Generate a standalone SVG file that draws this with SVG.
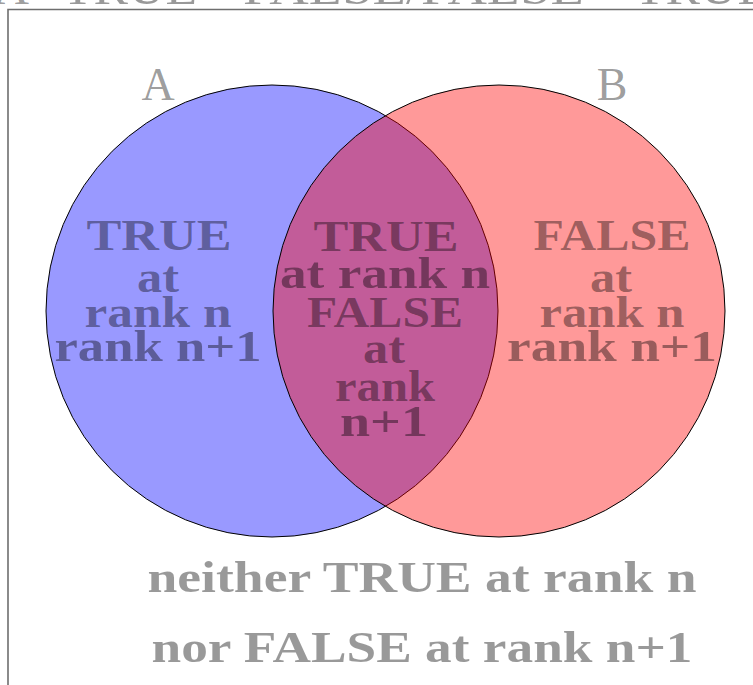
<svg xmlns="http://www.w3.org/2000/svg" width="753" height="685" viewBox="0 0 753 685">
<style>
.t{font-family:"Liberation Serif","Times New Roman",serif;fill:#000;fill-opacity:0.4;text-anchor:middle}
.b{font-weight:bold;font-size:44px}
.n{font-weight:normal;font-size:46px}
.c{stroke:#000;stroke-width:1}
</style>
<rect x="0" y="0" width="753" height="685" fill="#fff"/>
<g id="title">
<text class="t n" y="4" style="text-anchor:start"><tspan x="-6" textLength="35" lengthAdjust="spacingAndGlyphs">A</tspan><tspan x="62" textLength="135" lengthAdjust="spacingAndGlyphs">TRUE</tspan><tspan x="243" textLength="341" lengthAdjust="spacingAndGlyphs">FALSE/FALSE</tspan><tspan x="634" textLength="135" lengthAdjust="spacingAndGlyphs">TRUE</tspan></text>
</g>
<g id="frame">
<path d="M8,685 V9.5 H753" fill="none" stroke="#6e6e6e" stroke-width="1.6"/>
</g>
<g id="setA">
<circle class="c" cx="272" cy="311" r="226" fill="#0000ff" fill-opacity="0.4"/>
<text class="t n" x="158" y="100">A</text>
</g>
<g id="setB">
<circle class="c" cx="499" cy="311" r="226" fill="#ff0000" fill-opacity="0.4"/>
<text class="t n" x="612" y="100">B</text>
</g>
<g id="onlyA">
<text class="t b" x="159" y="250" textLength="145" lengthAdjust="spacingAndGlyphs">TRUE</text>
<text class="t b" x="158" y="292" textLength="42" lengthAdjust="spacingAndGlyphs">at</text>
<text class="t b" x="158" y="327" textLength="147" lengthAdjust="spacingAndGlyphs">rank n</text>
<text class="t b" x="158" y="361" textLength="207" lengthAdjust="spacingAndGlyphs">rank n+1</text>
</g>
<g id="both">
<text class="t b" x="386" y="251" textLength="145" lengthAdjust="spacingAndGlyphs">TRUE</text>
<text class="t b" x="385" y="288" textLength="210" lengthAdjust="spacingAndGlyphs">at rank n</text>
<text class="t b" x="385" y="327" textLength="156" lengthAdjust="spacingAndGlyphs">FALSE</text>
<text class="t b" x="384" y="363" textLength="42" lengthAdjust="spacingAndGlyphs">at</text>
<text class="t b" x="385" y="401" textLength="100" lengthAdjust="spacingAndGlyphs">rank</text>
<text class="t b" x="384" y="436" textLength="88" lengthAdjust="spacingAndGlyphs">n+1</text>
</g>
<g id="onlyB">
<text class="t b" x="612" y="250" textLength="157" lengthAdjust="spacingAndGlyphs">FALSE</text>
<text class="t b" x="611" y="292" textLength="42" lengthAdjust="spacingAndGlyphs">at</text>
<text class="t b" x="612" y="327" textLength="145" lengthAdjust="spacingAndGlyphs">rank n</text>
<text class="t b" x="612" y="361" textLength="210" lengthAdjust="spacingAndGlyphs">rank n+1</text>
</g>
<g id="neither">
<text class="t b" x="422" y="592" textLength="549" lengthAdjust="spacingAndGlyphs">neither TRUE at rank n</text>
<text class="t b" x="422" y="662" textLength="541" lengthAdjust="spacingAndGlyphs">nor FALSE at rank n+1</text>
</g>
<g id="connectors"></g>
</svg>
